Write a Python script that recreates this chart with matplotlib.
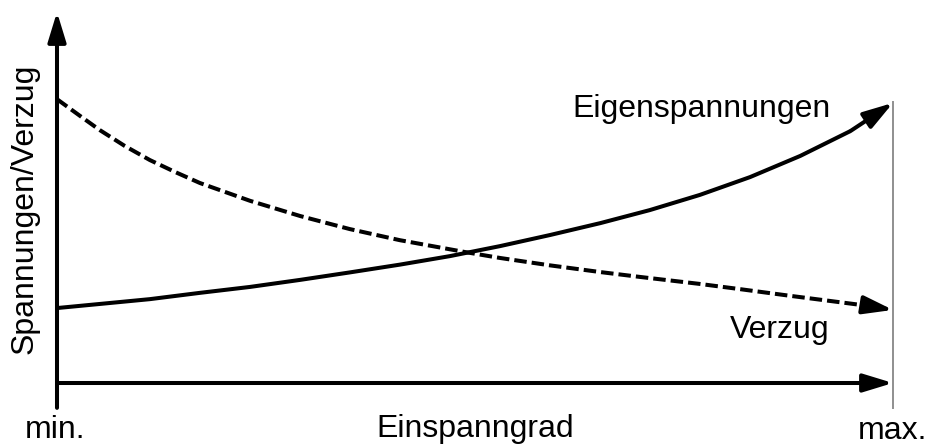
import matplotlib
matplotlib.use("Agg")
import matplotlib.pyplot as plt

plt.rcParams['font.family'] = ['Liberation Sans', 'DejaVu Sans']

# Einspanngrad von min. (0) bis max. (1), Werte in relativen Einheiten
eigen_x = [0, 0.051, 0.111, 0.171, 0.231, 0.291, 0.350, 0.410, 0.470, 0.530,
           0.590, 0.650, 0.709, 0.769, 0.829, 0.889, 0.949, 1.0]
eigen_y = [20.2, 21.3, 22.6, 24.3, 25.9, 27.8, 29.8, 31.9, 34.2, 36.9,
           39.9, 43.1, 46.6, 50.7, 55.5, 61.2, 67.9, 75.5]

verzug_x = [0, 0.0275, 0.051, 0.081, 0.111, 0.141, 0.171, 0.231, 0.291, 0.350,
            0.410, 0.488, 0.530, 0.590, 0.650, 0.697, 0.769, 0.817, 0.877,
            0.970, 1.0]
verzug_y = [76.5, 72.0, 68.2, 63.9, 60.1, 56.9, 53.9, 49.1, 45.0, 41.5,
            38.5, 35.3, 33.7, 31.7, 29.9, 28.6, 26.7, 25.3, 23.5,
            20.8, 19.7]

labels = {"curve1": "Eigenspannungen", "curve2": "Verzug",
          "xmin": "min.", "xmax": "max.", "xlabel": "Einspanngrad",
          "ylabel": "Spannungen/Verzug"}

fig = plt.figure(figsize=(9.28, 4.46), dpi=100)
ax = fig.add_axes([0, 0, 1, 1])
ax.set_xlim(-57 / 836, 871 / 836)
ax.set_ylim(-63 / 3.71, 383 / 3.71)
ax.axis('off')

lw = 2.9
fs = 23
head = '-|>,head_length=1.8,head_width=0.55'


def arrow(p0, p1, width=lw):
    ax.annotate('', xy=p1, xytext=p0,
                arrowprops=dict(arrowstyle=head, color='black', lw=width,
                                shrinkA=0, shrinkB=0, mutation_scale=10))


# Achsen
arrow((0, -6.7), (0, 100))
arrow((0, 0), (1, 0))
ax.plot([1, 1], [-6.7, 75.7], color='#8f8f8f', lw=1.4, zorder=0)

# Kurven
ax.plot(eigen_x[:-1], eigen_y[:-1], color='black', lw=lw,
        solid_capstyle='butt', solid_joinstyle='round')
arrow((eigen_x[-2], eigen_y[-2]), (eigen_x[-1], eigen_y[-1]))

ax.plot(verzug_x[:-1], verzug_y[:-1], color='black', lw=lw,
        dashes=(3.1, 1.25), dash_joinstyle='round')
arrow((verzug_x[-2], verzug_y[-2]), (verzug_x[-1], verzug_y[-1]))

# Beschriftung
ax.text(0.616, 71.7, labels["curve1"], fontsize=fs, ha='left', va='baseline')
ax.text(0.805, 12.1, labels["curve2"], fontsize=fs, ha='left', va='baseline')
ax.text(-0.038, -14.8, labels["xmin"], fontsize=fs, ha='left', va='baseline')
ax.text(0.5, -14.6, labels["xlabel"], fontsize=fs, ha='center', va='baseline')
ax.text(1.041, -15.1, labels["xmax"], fontsize=fs, ha='right', va='baseline')
ax.text(-0.029, 46.9, labels["ylabel"], fontsize=fs, rotation=90,
        rotation_mode='anchor', ha='center', va='baseline')

fig.savefig('out.png', dpi=100)
